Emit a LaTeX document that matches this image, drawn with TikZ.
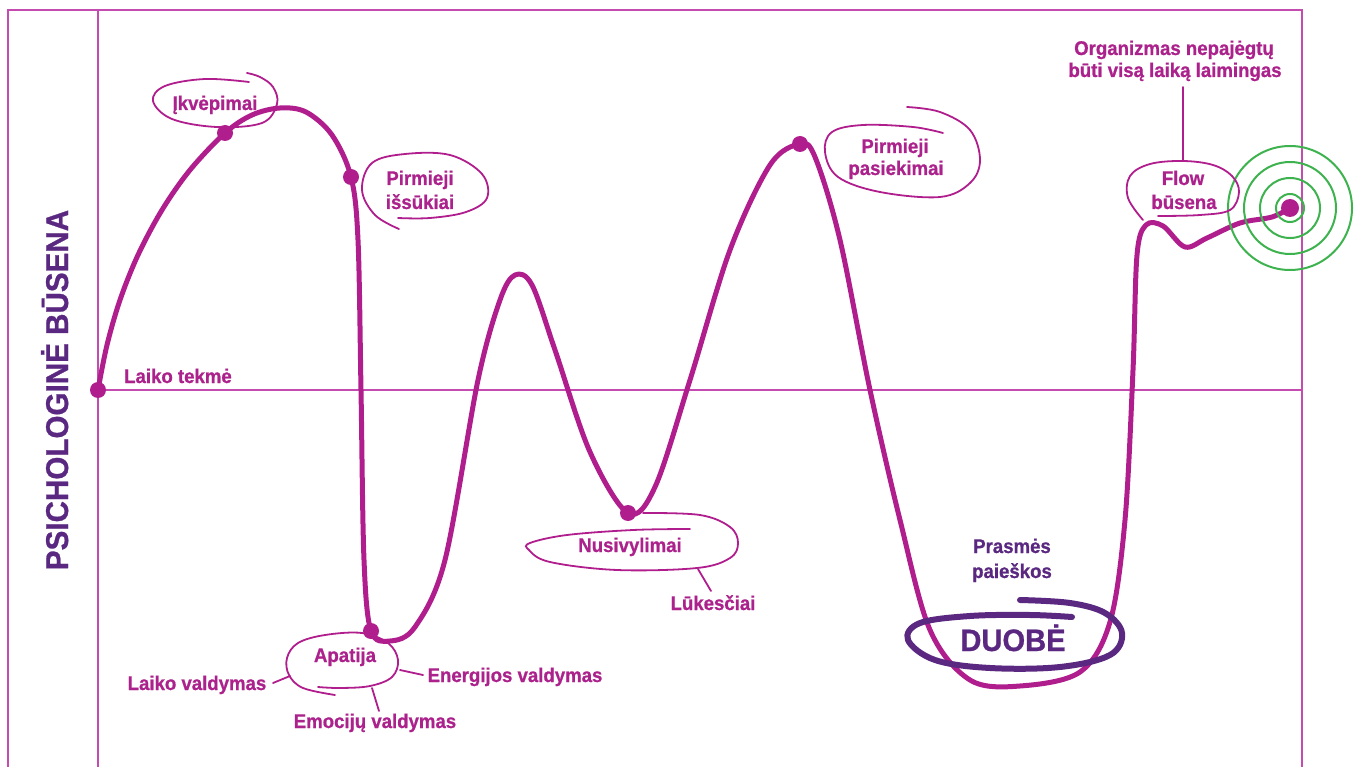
\documentclass[tikz,border=0pt]{standalone}
\usepackage{fontspec}
\setmainfont{Liberation Sans}[FakeStretch=0.94,BoldFeatures={FakeBold=0.8}]
\definecolor{curvec}{RGB}{176,30,142}
\definecolor{framec}{RGB}{196,76,176}
\definecolor{labelc}{RGB}{172,34,140}
\definecolor{deepc}{RGB}{90,40,128}
\definecolor{ringc}{RGB}{62,178,78}
\begin{document}
\begin{tikzpicture}[x=1pt,y=-1pt,
  frame/.style={draw=framec,line width=2pt},
  curve/.style={draw=curvec,line width=5pt,line cap=round,line join=round},
  bubble/.style={draw=curvec,line width=1.8pt,line cap=round},
  dot/.style={circle,fill=curvec,inner sep=0pt,minimum size=16pt},
  ring/.style={draw=ringc,line width=2pt},
  lbl/.style={font=\bfseries\fontsize{19.8}{24}\selectfont,text=labelc,inner sep=0pt,anchor=base},
  deeplbl/.style={lbl,text=deepc},
  duobe/.style={draw=deepc,line width=6pt,line cap=round}]
\useasboundingbox (0,0) rectangle (1357,767);

% frame and axes
\draw[frame] (8,767) -- (8,10) -- (1302,10) -- (1302,767);
\draw[frame] (98,10) -- (98,767);
\coordinate (origin) at (98,390);
\coordinate (xend) at (1302,390);
\draw[frame] (origin) -- (xend);

% axis titles
\node[font=\bfseries\fontsize{31.5}{36}\selectfont,text=deepc,inner sep=0pt,anchor=base,rotate=90] (ytitle) at (68,390) {PSICHOLOGINĖ BŪSENA};
\node[lbl,anchor=base west] (tekme) at (124,383) {Laiko tekmė};

% key points of the curve
\coordinate (p0) at (98,390);
\coordinate (p1) at (225,133);
\coordinate (p2) at (351,177);
\coordinate (p3) at (371,631);
\coordinate (p4) at (628,513);
\coordinate (p5) at (800,144);
\coordinate (p6) at (1290,208);

% the state curve
\draw[curve] plot[smooth,tension=0.55] coordinates {
  (p0) (107,345) (120,300) (138,255) (162,210) (190,170) (p1) (252,115)
  (280,108) (306,112) (332,135) (p2)
  (358,240) (361,390) (364,560) (p3) (390,641) (415,627) (445,560)
  (478,380) (500,300) (515,275) (532,285) (555,350) (590,452) (p4)
  (655,487) (690,380) (730,250) (770,165) (p5) (815,157) (840,240)
  (870,390) (900,520) (930,630) (970,680) (1020,686) (1080,672)
  (1110,622) (1125,520) (1133,370) (1137,255) (1146,225) (1163,226)
  (1185,247) (1207,238) (1240,223) (1272,217) (p6)};

% target rings
\foreach \r in {14,30,46,62} \draw[ring] (p6) circle[radius=\r pt];

% dots
\foreach \p in {p0,p1,p2,p3,p4,p5} \node[dot] at (\p) {};
\node[dot,minimum size=18pt] (enddot) at (p6) {};

% Ikvepimai
\draw[bubble] plot[smooth,tension=0.6] coordinates {(249,82) (205,79) (165,86) (153,101) (172,119) (217,127) (262,123) (277,104) (273,87) (260,77) (247,73)};
\node[lbl] (ikv) at (215,110) {Įkvėpimai};

% Pirmieji issukiai
\draw[bubble] plot[smooth,tension=0.6] coordinates {(399,229) (375,215) (362,190) (372,163) (405,154) (450,155) (482,174) (487,198) (466,212) (430,218) (398,218)};
\node[lbl] (iss1) at (420,185) {Pirmieji};
\node[lbl] (iss2) at (420,209) {išsūkiai};

% Apatija and its branches
\draw[bubble] plot[smooth,tension=0.6] coordinates {(335,695) (303,688) (289,675) (287,658) (298,643) (325,635) (362,633) (388,643) (398,660) (392,677) (370,686) (340,688) (318,687)};
\node[lbl] (apat) at (345,662) {Apatija};
\node[lbl] (laikov) at (197,690) {Laiko valdymas};
\node[lbl] (energ) at (515,682) {Energijos valdymas};
\node[lbl] (emoc) at (375,728) {Emocijų valdymas};
\coordinate (lvA) at (290,676); \coordinate (lvB) at (273,683);
\coordinate (enA) at (400,670); \coordinate (enB) at (423,675);
\coordinate (emA) at (372,688); \coordinate (emB) at (379,711);
\draw[bubble] (lvA) -- (lvB);
\draw[bubble] (enA) -- (enB);
\draw[bubble] (emA) -- (emB);

% Nusivylimai
\draw[bubble] plot[smooth,tension=0.6] coordinates {(690,529) (633,530) (567,535) (530,543) (529,550) (550,562) (617,570) (697,568) (730,558) (738,543) (730,527) (700,515) (643,513)};
\node[lbl] (nusiv) at (630,552) {Nusivylimai};
\node[lbl] (lukes) at (713,610) {Lūkesčiai};
\coordinate (lkA) at (698,569); \coordinate (lkB) at (711,591);
\draw[bubble] (lkA) -- (lkB);

% Pirmieji pasiekimai
\draw[bubble] plot[smooth,tension=0.6] coordinates {(943,133) (913,127) (863,125) (832,132) (825,152) (838,177) (880,192) (940,197) (970,183) (980,160) (970,130) (940,112) (907,107)};
\node[lbl] (pas1) at (895,153) {Pirmieji};
\node[lbl] (pas2) at (896,175) {pasiekimai};

% Duobe
\node[deeplbl] (pr1) at (1012,553) {Prasmės};
\node[deeplbl] (pr2) at (1012,578) {paieškos};
\draw[duobe] plot[smooth,tension=0.6] coordinates {(1020,600) (1070,603) (1105,613) (1122,633) (1110,655) (1060,667) (990,668) (935,660) (908,640) (920,623) (970,616) (1030,615) (1072,617)};
\node[font=\bfseries\fontsize{31}{36}\selectfont,text=deepc,inner sep=0pt,anchor=base] (duob) at (1013,651) {DUOBĖ};

% Flow state
\draw[bubble] plot[smooth,tension=0.6] coordinates {(1158,216) (1200,215) (1230,210) (1239,192) (1232,176) (1213,165) (1183,161) (1150,164) (1130,176) (1128,198) (1143,220)};
\node[lbl] (flow1) at (1183,185) {Flow};
\node[lbl] (flow2) at (1184,209) {būsena};
\node[lbl] (org1) at (1174,55) {Organizmas nepajėgtų};
\node[lbl] (org2) at (1175,77) {būti visą laiką laimingas};
\coordinate (orgA) at (1183,87); \coordinate (orgB) at (1183,161);
\draw[bubble] (orgA) -- (orgB);
\end{tikzpicture}
\end{document}
